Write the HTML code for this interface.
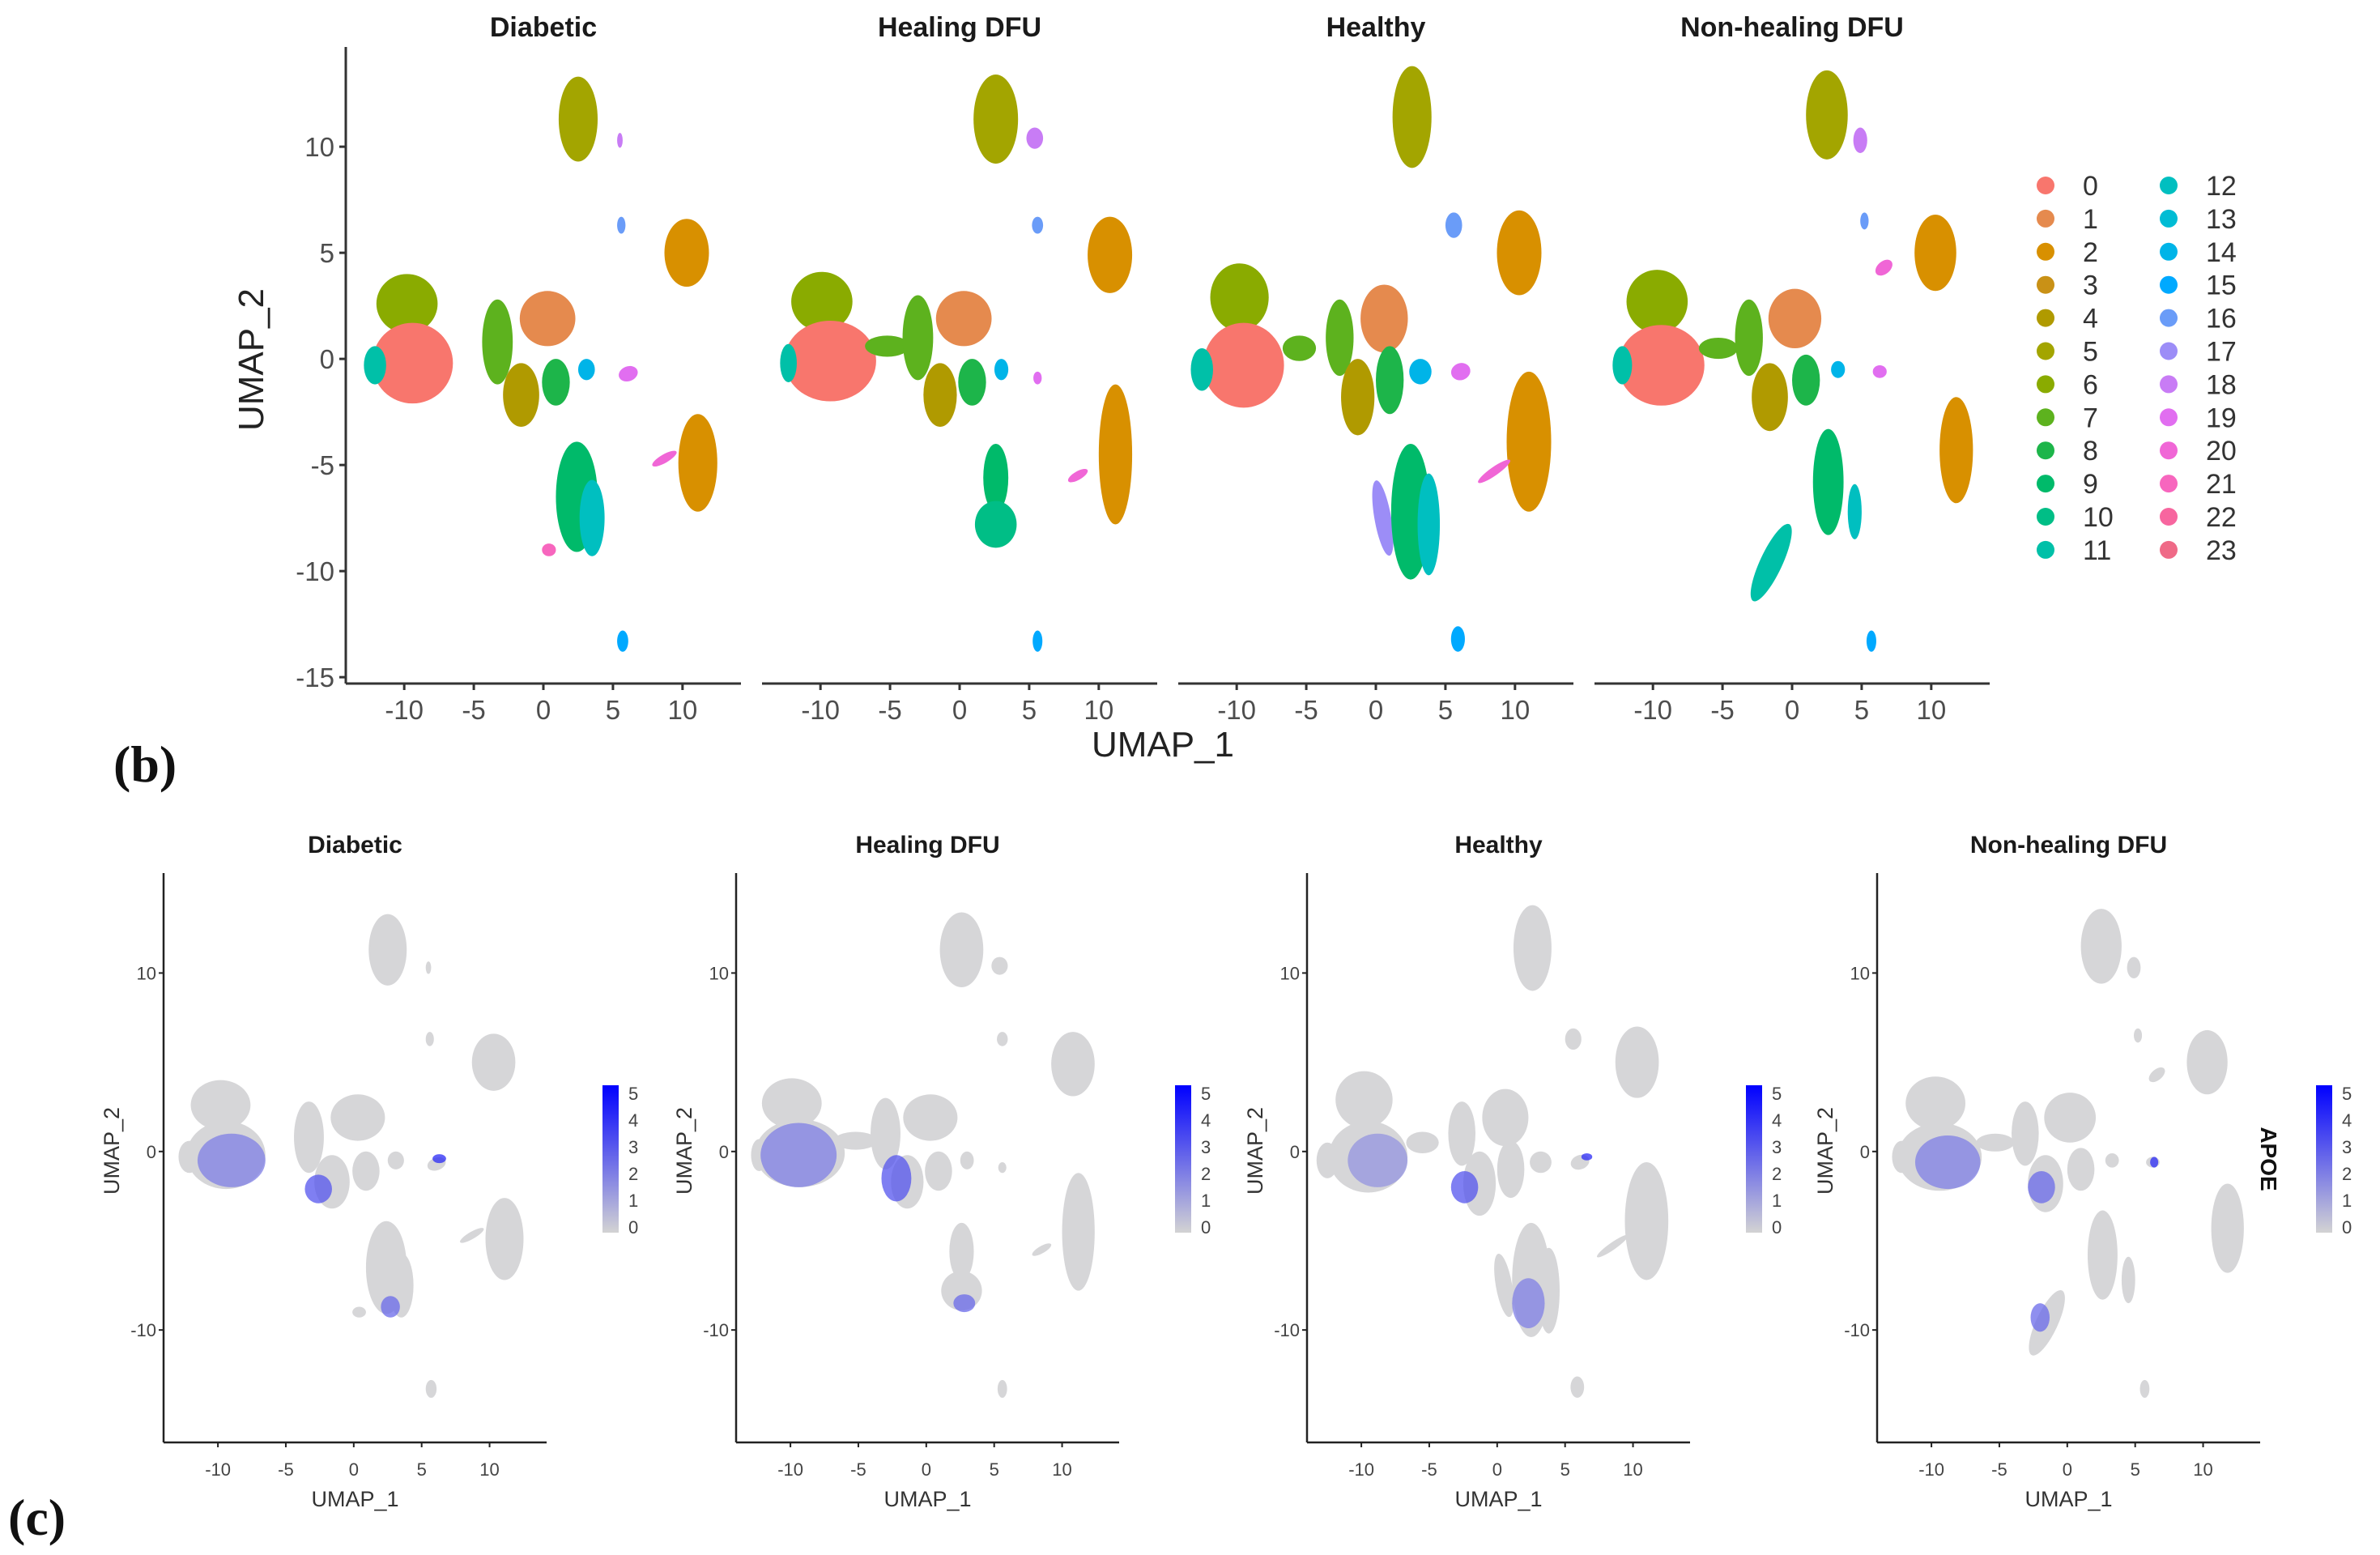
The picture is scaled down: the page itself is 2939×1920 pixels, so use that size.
<!DOCTYPE html>
<html><head><meta charset="utf-8"><style>
html,body{margin:0;padding:0;background:#fff;}
svg{display:block;font-family:"Liberation Sans",Arial,sans-serif;}
</style></head><body>
<svg id="fig" width="2939" height="1920" viewBox="0 0 2939 1920" xmlns="http://www.w3.org/2000/svg">
<rect width="2939" height="1920" fill="#fff"/>
<g id="topPanels"></g>
<g id="bottomPanels"></g>
<text x="140" y="965" font-family="Liberation Serif,serif" font-weight="bold" font-size="64" fill="#111">(b)</text>
<text x="10" y="1895" font-family="Liberation Serif,serif" font-weight="bold" font-size="64" fill="#111">(c)</text>
</svg>
<script>
const NS="http://www.w3.org/2000/svg";
const panelTitles=["Diabetic","Healing DFU","Healthy","Non-healing DFU"];
const clusterColors=["#F8766D","#E58A4E","#D89000","#C99116","#B09A00","#A3A500","#8AAB00","#5DB21E","#1DB54A","#00BA6A","#00BE86","#00C0A8","#00BFC0","#00BCD4","#00B4E8","#00A9FF","#6A9CF8","#9C8DF7","#C87CF5","#E16EF0","#F066D6","#F766BE","#F7669F","#EF6A87"];
const xTicks=[-10,-5,0,5,10];
const yTicksTop=[10,5,0,-5,-10,-15];
const yTicksBottom=[10,0,-10];
const legendLabels=["0","1","2","3","4","5","6","7","8","9","10","11","12","13","14","15","16","17","18","19","20","21","22","23"];
// blobs: [cluster, x, y, rx, ry, rotationDeg]
const diabeticBlobs=[[6,-9.8,2.6,2.2,1.4,0],[0,-9.4,-0.2,2.9,1.9,0],[11,-12.1,-0.3,0.8,0.9,0],[7,-3.3,0.8,1.1,2.0,0],[1,0.3,1.9,2.0,1.3,0],[4,-1.6,-1.7,1.3,1.5,0],[8,0.9,-1.1,1.0,1.1,0],[14,3.1,-0.5,0.6,0.5,0],[19,6.1,-0.7,0.7,0.35,-20],[5,2.5,11.3,1.4,2.0,0],[18,5.5,10.3,0.2,0.35,0],[16,5.6,6.3,0.3,0.4,0],[2,10.3,5.0,1.6,1.6,0],[2,11.1,-4.9,1.4,2.3,0],[20,8.7,-4.7,1.0,0.2,-30],[9,2.4,-6.5,1.5,2.6,0],[12,3.5,-7.5,0.9,1.8,0],[21,0.4,-9.0,0.5,0.3,0],[15,5.7,-13.3,0.4,0.5,0]];
const healingBlobs=[[6,-9.9,2.7,2.2,1.4,0],[0,-9.3,-0.1,3.3,1.9,0],[11,-12.3,-0.2,0.6,0.9,0],[7,-5.2,0.6,1.6,0.5,0],[7,-3.0,1.0,1.1,2.0,0],[1,0.3,1.9,2.0,1.3,0],[4,-1.4,-1.7,1.2,1.5,0],[8,0.9,-1.1,1.0,1.1,0],[14,3.0,-0.5,0.5,0.5,0],[19,5.6,-0.9,0.3,0.3,0],[5,2.6,11.3,1.6,2.1,0],[18,5.4,10.4,0.6,0.5,0],[16,5.6,6.3,0.4,0.4,0],[2,10.8,4.9,1.6,1.8,0],[2,11.2,-4.5,1.2,3.3,0],[20,8.5,-5.5,0.8,0.2,-30],[9,2.6,-5.6,0.9,1.6,0],[10,2.6,-7.8,1.5,1.1,0],[15,5.6,-13.3,0.35,0.5,0]];
const healthyBlobs=[[6,-9.8,2.9,2.1,1.6,0],[0,-9.5,-0.3,2.9,2.0,0],[11,-12.5,-0.5,0.8,1.0,0],[7,-5.5,0.5,1.2,0.6,0],[7,-2.6,1.0,1.0,1.8,0],[1,0.6,1.9,1.7,1.6,0],[4,-1.3,-1.8,1.2,1.8,0],[8,1.0,-1.0,1.0,1.6,0],[14,3.2,-0.6,0.8,0.6,0],[19,6.1,-0.6,0.7,0.4,-20],[5,2.6,11.4,1.4,2.4,0],[16,5.6,6.3,0.6,0.6,0],[2,10.3,5.0,1.6,2.0,0],[2,11.0,-3.9,1.6,3.3,0],[20,8.5,-5.3,1.4,0.2,-35],[17,0.5,-7.5,0.6,1.8,-10],[9,2.5,-7.2,1.4,3.2,0],[12,3.8,-7.8,0.8,2.4,0],[15,5.9,-13.2,0.5,0.6,0]];
const nonhealingBlobs=[[6,-9.7,2.7,2.2,1.5,0],[0,-9.4,-0.3,3.1,1.9,0],[11,-12.2,-0.3,0.7,0.9,0],[7,-5.3,0.5,1.4,0.5,0],[7,-3.1,1.0,1.0,1.8,0],[1,0.2,1.9,1.9,1.4,0],[4,-1.6,-1.8,1.3,1.6,0],[8,1.0,-1.0,1.0,1.2,0],[14,3.3,-0.5,0.5,0.4,0],[19,6.3,-0.6,0.5,0.3,0],[5,2.5,11.5,1.5,2.1,0],[18,4.9,10.3,0.5,0.6,0],[16,5.2,6.5,0.3,0.4,0],[20,6.6,4.3,0.7,0.3,-40],[2,10.3,5.0,1.5,1.8,0],[2,11.8,-4.3,1.2,2.5,0],[9,2.6,-5.8,1.1,2.5,0],[12,4.5,-7.2,0.5,1.3,0],[11,-1.5,-9.6,0.8,2.0,25],[15,5.7,-13.3,0.35,0.5,0]];
const allBlobs=[diabeticBlobs,healingBlobs,healthyBlobs,nonhealingBlobs];
// expression overlays: [x, y, rx, ry, level]
const diabeticExpr=[[-9.0,-0.5,2.5,1.5,2],[-2.6,-2.1,1.0,0.8,3],[6.3,-0.4,0.5,0.25,4],[2.7,-8.7,0.7,0.6,2.5]];
const healingExpr=[[-9.4,-0.2,2.8,1.8,2],[-2.2,-1.5,1.1,1.3,3],[2.8,-8.5,0.8,0.5,2.5]];
const healthyExpr=[[-8.8,-0.5,2.2,1.5,1.5],[-2.4,-2.0,1.0,0.9,3],[2.3,-8.5,1.2,1.4,2],[6.6,-0.3,0.4,0.2,4]];
const nonhealingExpr=[[-8.8,-0.6,2.4,1.5,2],[-1.9,-2.0,1.0,0.9,2.5],[-2.0,-9.3,0.7,0.8,2.5],[6.4,-0.6,0.3,0.3,4]];
const allExpr=[diabeticExpr,healingExpr,healthyExpr,nonhealingExpr];
const colorbarLabels=["5","4","3","2","1","0"];

function el(tag,attrs,parent){const e=document.createElementNS(NS,tag);for(const k in attrs)e.setAttribute(k,attrs[k]);parent.appendChild(e);return e;}
function txt(parent,x,y,s,size,opts){const t=el("text",Object.assign({x:x,y:y,"font-size":size,fill:"#333"},opts||{}),parent);t.textContent=s;return t;}
function mix(level){const f=Math.min(level/5,1);const a=[211,211,211],b=[0,0,255];return "rgb("+a.map((v,i)=>Math.round(v+(b[i]-v)*f)).join(",")+")";}

const topG=document.getElementById("topPanels");
const TX0=427,TSTEP=514,TW=488,TY0=58,TY1=844,XMIN=-14.2,XMAX=14.2,YMAXT=14.7,YMINT=-15.3;
for(let p=0;p<4;p++){
  const x0=TX0+p*TSTEP;
  const sx=v=>x0+(v-XMIN)/(XMAX-XMIN)*TW;
  const sy=v=>TY0+(YMAXT-v)/(YMAXT-YMINT)*(TY1-TY0);
  const g=el("g",{},topG);
  
  
  const t=txt(g,x0+TW/2,36,panelTitles[p],34,{"text-anchor":"middle","font-weight":"bold",fill:"#1a1a1a","dominant-baseline":"middle"});
  
  
  allBlobs[p].forEach(b=>{
    const cx=sx(b[1]),cy=sy(b[2]);
    const e=el("ellipse",{cx:cx,cy:cy,rx:b[3]*TW/(XMAX-XMIN),ry:b[4]*(TY1-TY0)/(YMAXT-YMINT),fill:clusterColors[b[0]],transform:"rotate("+b[5]+" "+cx+" "+cy+")"},g);
    
    
  });
  const ax=el("line",{x1:x0,x2:x0+TW,y1:TY1,y2:TY1,stroke:"#333","stroke-width":3},g);
  
  
  xTicks.forEach(v=>{
    el("line",{x1:sx(v),x2:sx(v),y1:TY1,y2:TY1+8,stroke:"#333","stroke-width":3},g);
    const l=txt(g,sx(v),888,String(v),33,{"text-anchor":"middle",fill:"#4d4d4d"});
    
    
  });
  if(p===0){
    const ay=el("line",{x1:x0,x2:x0,y1:TY0,y2:TY1,stroke:"#333","stroke-width":3},g);
    
    
    yTicksTop.forEach(v=>{
      el("line",{x1:x0-8,x2:x0,y1:sy(v),y2:sy(v),stroke:"#333","stroke-width":3},g);
      const l=txt(g,x0-14,sy(v)+12,String(v),33,{"text-anchor":"end",fill:"#4d4d4d"});
      
      
    });
  }
}
const ytt=txt(topG,0,0,"UMAP_2",44,{"text-anchor":"middle",transform:"translate(325,444) rotate(-90)",fill:"#222"});


const xtt=txt(topG,1436,934,"UMAP_1",44,{"text-anchor":"middle",fill:"#222"});


legendLabels.forEach((s,i)=>{
  const col=Math.floor(i/12),row=i%12;
  const y=229+row*40.9;
  const g=el("g",{},topG);
  
  
  el("circle",{cx:2526+col*152,cy:y,r:11,fill:clusterColors[i]},g);
  txt(g,2572+col*152,y+12,s,34,{fill:"#333"});
});

const botG=document.getElementById("bottomPanels");
const BX=[202,909,1614,2318],BW=473,BY0=1078,BY1=1781,BXMIN=-14,BXMAX=14.2,BYMAX=15.6,BYMIN=-16.3;
for(let p=0;p<4;p++){
  const x0=BX[p];
  const sx=v=>x0+(v-BXMIN)/(BXMAX-BXMIN)*BW;
  const sy=v=>BY0+(BYMAX-v)/(BYMAX-BYMIN)*(BY1-BY0);
  const kx=BW/(BXMAX-BXMIN),ky=(BY1-BY0)/(BYMAX-BYMIN);
  const g=el("g",{},botG);
  
  
  const t=txt(g,x0+BW/2,1053,panelTitles[p],30,{"text-anchor":"middle","font-weight":"bold",fill:"#1a1a1a"});
  
  
  allBlobs[p].forEach(b=>{
    const cx=sx(b[1]),cy=sy(b[2]);
    const e=el("ellipse",{cx:cx,cy:cy,rx:b[3]*kx,ry:b[4]*ky,fill:"#d6d6d8",transform:"rotate("+b[5]+" "+cx+" "+cy+")"},g);
    
    
  });
  allExpr[p].forEach(b=>{
    const e=el("ellipse",{cx:sx(b[0]),cy:sy(b[1]),rx:b[2]*kx,ry:b[3]*ky,fill:mix(b[4]),opacity:0.75},g);
    
    
  });
  el("line",{x1:x0,x2:x0,y1:BY0,y2:BY1,stroke:"#222","stroke-width":2.5},g);
  el("line",{x1:x0,x2:x0+BW,y1:BY1,y2:BY1,stroke:"#222","stroke-width":2.5},g);
  xTicks.forEach(v=>{
    el("line",{x1:sx(v),x2:sx(v),y1:BY1,y2:BY1+6,stroke:"#222","stroke-width":2},g);
    const l=txt(g,sx(v),1822,String(v),22,{"text-anchor":"middle",fill:"#444"});
    
    
  });
  yTicksBottom.forEach(v=>{
    el("line",{x1:x0-6,x2:x0,y1:sy(v),y2:sy(v),stroke:"#222","stroke-width":2},g);
    const l=txt(g,x0-9,sy(v)+8,String(v),22,{"text-anchor":"end",fill:"#444"});
    
    
  });
  const xl=txt(g,x0+BW/2,1860,"UMAP_1",27,{"text-anchor":"middle",fill:"#333"});
  
  
  const yl=txt(g,0,0,"UMAP_2",27,{"text-anchor":"middle",transform:"translate("+(x0-55)+",1421) rotate(-90)",fill:"#333"});
  
  
  const cbx=x0+542;
  const gid="cb"+p;
  const defs=el("defs",{},g);
  const lg=el("linearGradient",{id:gid,x1:0,y1:1,x2:0,y2:0},defs);
  el("stop",{offset:"0","stop-color":"#d3d3d3"},lg);
  el("stop",{offset:"1","stop-color":"#0000ff"},lg);
  const cb=el("rect",{x:cbx,y:1340,width:20,height:182,fill:"url(#"+gid+")"},g);
  
  
  colorbarLabels.forEach((s,i)=>{
    const y=1350+i*(165/5);
    const l=txt(g,cbx+32,y+8,s,22,{fill:"#444"});
    
    
  });
}
const apoe=txt(botG,0,0,"APOE",28,{"text-anchor":"middle","font-weight":"bold",fill:"#111",transform:"translate(2792,1431) rotate(90)"});


</script>
</body></html>
